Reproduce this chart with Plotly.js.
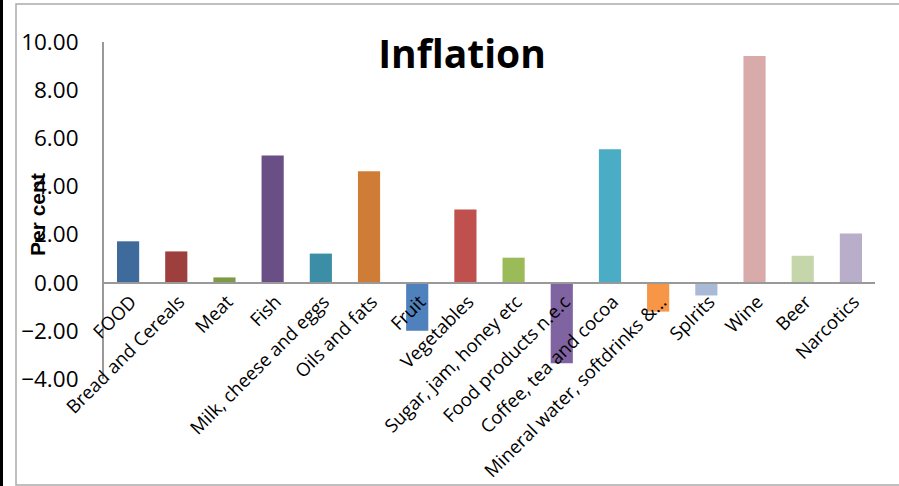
<!DOCTYPE html>
<html>
<head>
<meta charset="utf-8">
<script src="https://cdn.plot.ly/plotly-3.0.1.min.js"></script>
<style>
html,body{margin:0;padding:0;background:#fff;}
#chart{width:899px;height:486px;}
</style>
</head>
<body>
<div id="chart"></div>
<script>
const categories = ["FOOD","Bread and Cereals","Meat","Fish","Milk, cheese and eggs","Oils and fats","Fruit","Vegetables","Sugar, jam, honey etc","Food products n.e.c","Coffee, tea and cocoa","Mineral water, softdrinks &…","SpIrits","Wine","Beer","Narcotics"];
const inflation = [1.72, 1.30, 0.22, 5.29, 1.21, 4.63, -2.00, 3.04, 1.04, -3.35, 5.54, -1.20, -0.53, 9.42, 1.12, 2.04];
const barColors = ["#3F6A9C","#9D3F3D","#7D9A45","#6A4F87","#3B8EA5","#CF7C37","#4F81BD","#C0504D","#9BBB59","#8064A2","#4BACC6","#F79646","#A9BAD7","#D9AAAA","#C5D6AB","#B9AEC9"];
const yTickVals = [-4,-2,0,2,4,6,8,10];

const W = 899, H = 486;
const M = {l:104, r:24, t:42, b:107};
const PW = W - M.l - M.r, PH = H - M.t - M.b;
const px = x => (x - M.l) / PW;
const py = y => (H - M.b - y) / PH;
const yMin = -4, yMax = 10;

const trace = {
  type: 'bar',
  x: categories,
  y: inflation,
  marker: {color: barColors, line: {width: 0}},
  hoverinfo: 'x+y'
};

const layout = {
  width: W, height: H,
  margin: M,
  paper_bgcolor: '#fff',
  plot_bgcolor: 'rgba(0,0,0,0)',
  showlegend: false,
  bargap: 0.54,
  font: {family: 'Open Sans, sans-serif', color: '#000'},
  title: {
    text: '<b>Inflation</b>',
    font: {family: 'Open Sans, sans-serif', size: 39, color: '#000'},
    x: 462 / W, xanchor: 'center', xref: 'container',
    y: 1 - 54 / H, yanchor: 'middle', yref: 'container'
  },
  xaxis: {
    type: 'category',
    anchor: 'free',
    position: (0 - yMin) / (yMax - yMin),
    showline: true, linecolor: '#999', linewidth: 2,
    showgrid: false, zeroline: false,
    ticks: '',
    tickangle: -45,
    ticklabelstandoff: 0,
    ticklabelshift: 3,
    tickfont: {family: 'Open Sans, sans-serif', size: 18.5, color: '#000'}
  },
  yaxis: {
    range: [yMin, yMax],
    tickvals: yTickVals,
    tickformat: '.2f',
    showline: true, linecolor: '#999', linewidth: 2,
    showgrid: false, zeroline: false,
    ticks: '',
    ticklabelstandoff: 19,
    tickfont: {family: 'Open Sans, sans-serif', size: 22.5, color: '#000'}
  },
  annotations: [{
    text: '<b>Per cent</b>',
    textangle: -90,
    showarrow: false,
    xref: 'paper', yref: 'paper',
    x: px(37), y: py(215),
    xanchor: 'center', yanchor: 'middle',
    font: {family: 'Liberation Sans, Arial, sans-serif', size: 21, color: '#000'}
  }],
  shapes: [
    {type: 'rect', xref: 'paper', yref: 'paper', layer: 'below',
     x0: px(16), x1: px(905), y0: py(485), y1: py(4),
     line: {color: '#aaa', width: 1.5}, fillcolor: 'rgba(0,0,0,0)'},
    {type: 'rect', xref: 'paper', yref: 'paper', layer: 'below',
     x0: px(-2), x1: px(3), y0: py(490), y1: py(-4),
     line: {width: 0}, fillcolor: '#000'}
  ]
};

Plotly.newPlot('chart', [trace], layout, {displayModeBar: false, staticPlot: true});
</script>
</body>
</html>
